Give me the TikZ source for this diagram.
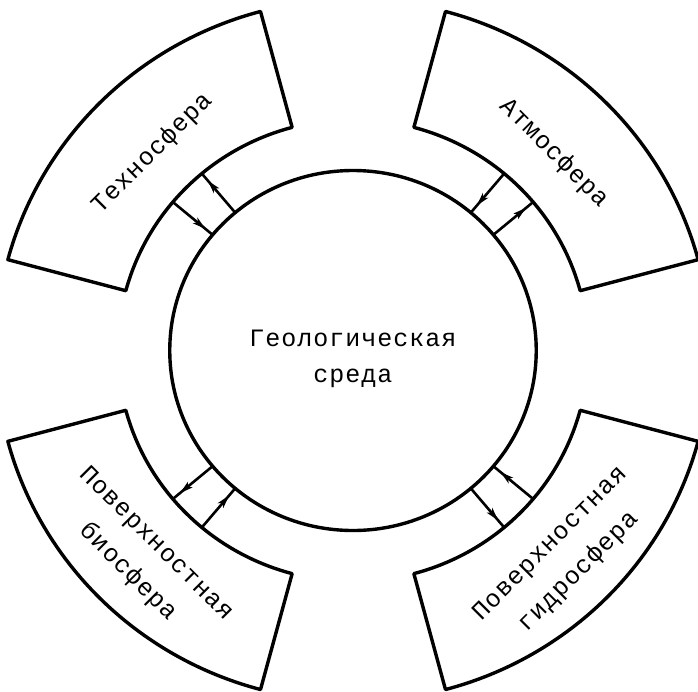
\documentclass[tikz,border=0pt]{standalone}
\usepackage{fontspec}
\newfontfamily\typefont{Liberation Mono}[LetterSpace=4]
\usetikzlibrary{arrows.meta,decorations.markings}

\tikzset{
  outline/.style={line width=3.4pt, line join=round},
  flow/.style={line width=2.6pt, postaction={decorate},
    decoration={markings, mark=at position 0.82 with
      {\arrow{Stealth[length=13pt,width=7pt,inset=3pt]}}}},
  centretext/.style={font=\typefont\fontsize{25}{36.5}\selectfont,
    align=center, inner sep=0pt},
  spheretext/.style={font=\typefont\fontsize{25}{40}\selectfont,
    align=center, inner sep=0pt},
}

\begin{document}
\begin{tikzpicture}[x=1pt,y=1pt]
\useasboundingbox (-353,-340.5) rectangle (345,350.5);
\begin{scope}[xscale=1.018]
  % central body: the geological environment
  \draw[outline] (0,0) circle[radius=180pt];
  \node[centretext] (geo) at (0,-8.5pt) {Геологическая\\среда};

  % four outer spheres as ring sectors, each with a two-way exchange
  \foreach \a/\nm in {45/atm, 135/tech, 225/bio, 315/hydro} {
    \draw[outline] (\a-30:231pt) -- (\a-30:351pt)
      arc[start angle=\a-30, end angle=\a+30, radius=351pt]
      -- (\a+30:231pt)
      arc[start angle=\a+30, end angle=\a-30, radius=231pt] -- cycle;
    \coordinate (\nm-c1) at (\a-5:180pt);
    \coordinate (\nm-s1) at (\a-5:231pt);
    \coordinate (\nm-c2) at (\a+5:180pt);
    \coordinate (\nm-s2) at (\a+5:231pt);
    \draw[flow] (\nm-c1) -- (\nm-s1);
    \draw[flow] (\nm-s2) -- (\nm-c2);
  }

  \node[spheretext, rotate=-45] (atm) at (45:279pt) {Атмосфера};
  \node[spheretext, rotate=45] (tech) at (135:279pt) {Техносфера};
  \node[spheretext, rotate=-45] (bio) at (225:294pt) {Поверхностная\\биосфера};
  \node[spheretext, rotate=45] (hydro) at (315:294pt) {Поверхностная\\гидросфера};
\end{scope}
\end{tikzpicture}
\end{document}
